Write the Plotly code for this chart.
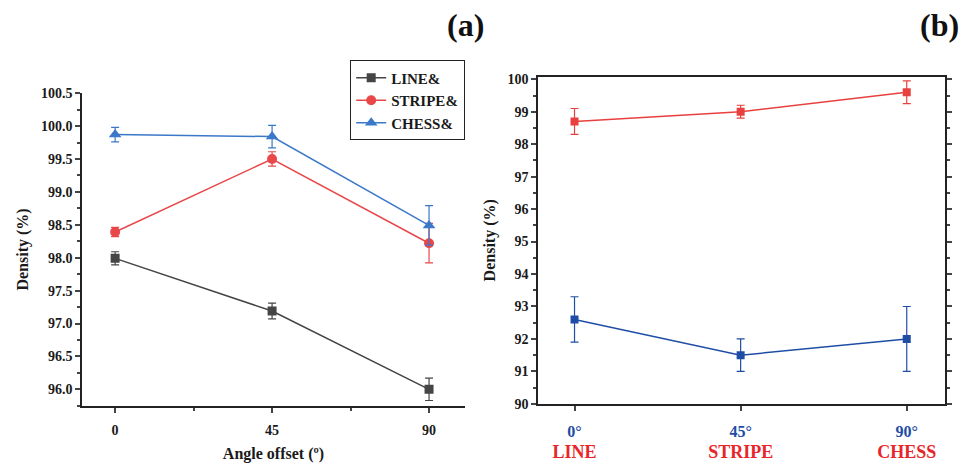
import plotly.graph_objects as go

# ---- Panel (a) data ----
angles = [0, 45, 90]
line_vals = [97.99, 97.19, 96.00]
line_err = [0.10, 0.12, 0.17]
stripe_vals = [98.39, 99.50, 98.22]
stripe_err = [0.07, 0.11, 0.30]
chess_vals = [99.87, 99.84, 98.49]
chess_err = [0.11, 0.17, 0.30]

# ---- Panel (b) data ----
cats_b = [0, 1, 2]
angle_labels_b = ["0°", "45°", "90°"]
pattern_labels_b = ["LINE", "STRIPE", "CHESS"]
red_vals = [98.7, 99.0, 99.6]
red_err = [0.40, 0.20, 0.35]
blue_vals = [92.6, 91.5, 92.0]
blue_err = [0.70, 0.50, 1.00]

FONT = "Liberation Serif"
GRAY = "#454545"
RED_A = "#e8484a"
BLUE_A = "#3b78c8"
RED_B = "#e8403f"
BLUE_B = "#1f4da6"

fig = go.Figure()

def add_a(y, err, name, color, symbol, size):
    fig.add_trace(go.Scatter(
        x=angles, y=y, name=name, mode="lines+markers",
        line=dict(color=color, width=1.5),
        marker=dict(color=color, symbol=symbol, size=size),
        error_y=dict(type="data", array=err, color=color, thickness=1.2, width=4),
        xaxis="x", yaxis="y"))

add_a(line_vals, line_err, "LINE&", GRAY, "square", 9)
add_a(stripe_vals, stripe_err, "STRIPE&", RED_A, "circle", 10)
add_a(chess_vals, chess_err, "CHESS&", BLUE_A, "triangle-up", 11)

def add_b(y, err, color):
    fig.add_trace(go.Scatter(
        x=cats_b, y=y, mode="lines+markers", showlegend=False,
        line=dict(color=color, width=1.5),
        marker=dict(color=color, symbol="square", size=8),
        error_y=dict(type="data", array=err, color=color, thickness=1.2, width=4),
        xaxis="x2", yaxis="y2"))

add_b(red_vals, red_err, RED_B)
add_b(blue_vals, blue_err, BLUE_B)

tickfont = dict(family=FONT, size=14, color="#1a1a1a", weight="bold")
titlefont = dict(family=FONT, size=16, color="#1a1a1a", weight="bold")

ticktext_b = [
    f"<span style='color:{BLUE_B};font-size:16px'>{a}</span><br>"
    f"<span style='color:#e8262a;font-size:18px'>{p}</span>"
    for a, p in zip(angle_labels_b, pattern_labels_b)]

fig.update_layout(
    width=976, height=468,
    margin=dict(l=0, r=0, t=0, b=0),
    paper_bgcolor="white", plot_bgcolor="white",
    font=dict(family=FONT, color="#1a1a1a"),
    xaxis=dict(domain=[0.084, 0.4764], range=[-9.5, 100.3],
               tickvals=angles, ticks="outside", ticklen=5, tickwidth=1.5,
               minor=dict(tickvals=[22.5, 67.5], ticks="outside", ticklen=3, tickwidth=1.5),
               showline=True, linecolor="#222", linewidth=1.5, showgrid=False, zeroline=False,
               tickfont=tickfont, ticklabelstandoff=6,
               title=dict(text="Angle offset (º)", font=titlefont, standoff=10)),
    yaxis=dict(domain=[0.1197, 0.8098], range=[95.75, 100.5],
               tickvals=[96.0, 96.5, 97.0, 97.5, 98.0, 98.5, 99.0, 99.5, 100.0, 100.5],
               tickformat=".1f", ticks="outside", ticklen=5, tickwidth=1.5,
               minor=dict(dtick=0.25, ticks="outside", ticklen=3, tickwidth=1.5),
               showline=True, linecolor="#222", linewidth=1.5, showgrid=False, zeroline=False,
               tickfont=tickfont,
               title=dict(text="Density (%)", font=titlefont, standoff=8)),
    xaxis2=dict(domain=[0.5512, 0.9682], range=[-0.22, 2.23], anchor="y2",
                tickvals=cats_b, ticktext=ticktext_b,
                ticks="outside", ticklen=5, tickwidth=1.5,
                showline=True, mirror=True, linecolor="#222", linewidth=1.5,
                showgrid=False, zeroline=False, ticklabelstandoff=7,
                tickfont=dict(family=FONT, size=16, weight="bold")),
    yaxis2=dict(domain=[0.1239, 0.8462], range=[90, 100.08], anchor="x2",
                dtick=1, ticks="outside", ticklen=5, tickwidth=1.5,
                minor=dict(dtick=0.5, ticks="outside", ticklen=3, tickwidth=1.5),
                showline=True, mirror="ticks", linecolor="#222", linewidth=1.5,
                showgrid=False, zeroline=False,
                tickfont=tickfont,
                title=dict(text="Density (%)", font=titlefont, standoff=8)),
    legend=dict(x=0.3586, y=0.8825, xanchor="left", yanchor="top",
                bordercolor="#222", borderwidth=1.2, bgcolor="white",
                font=dict(family=FONT, size=15, color="#1a1a1a", weight="bold"),
                tracegroupgap=0, itemsizing="trace", itemwidth=30),
    annotations=[
        dict(text="<b>(a)</b>", x=0.477, y=0.96, xref="paper", yref="paper",
             xanchor="center", yanchor="middle", showarrow=False,
             font=dict(family=FONT, size=32, color="#111")),
        dict(text="<b>(b)</b>", x=0.963, y=0.96, xref="paper", yref="paper",
             xanchor="center", yanchor="middle", showarrow=False,
             font=dict(family=FONT, size=32, color="#111")),
    ],
)

fig.write_html("out.html")
